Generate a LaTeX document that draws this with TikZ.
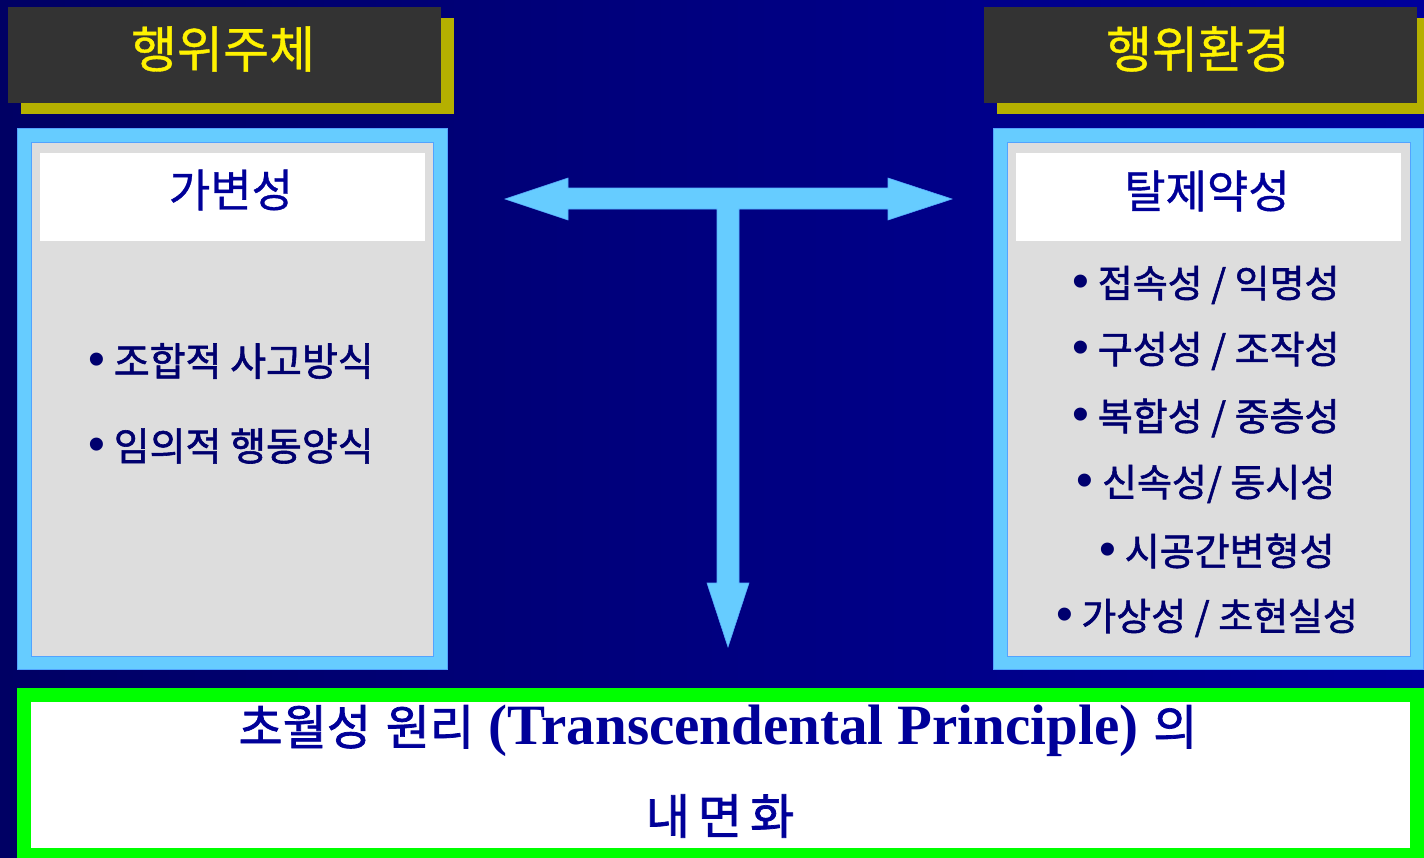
\documentclass[tikz,border=0pt]{standalone}
\usepackage{fontspec}
\setmainfont{Liberation Serif}
\newfontfamily\kr{Noto Sans CJK KR}
\newfontfamily\krm[FakeBold=1.5]{Noto Sans CJK KR}
\newfontfamily\krs[FakeBold=0.8]{Noto Sans CJK KR}
\newfontfamily\lsans{Liberation Sans}
\newcommand{\bul}{{\lsans\fontsize{48}{44}\selectfont •}}
\definecolor{bgL}{RGB}{0,0,100}
\definecolor{bgR}{RGB}{0,0,155}
\definecolor{hdrdark}{RGB}{51,51,51}
\definecolor{olivesh}{RGB}{181,176,0}
\definecolor{ltblue}{RGB}{102,204,255}
\definecolor{ltgray}{RGB}{221,221,221}
\definecolor{navy}{RGB}{0,0,153}
\definecolor{navyd}{RGB}{0,0,110}
\definecolor{grn}{RGB}{0,255,0}
\tikzset{
  hdrtext/.style={text=yellow, font=\krs\fontsize{50}{54}\selectfont, inner sep=0pt},
  ttltext/.style={text=navy, font=\krs\fontsize{45}{50}\selectfont, inner sep=0pt},
  itemtextL/.style={text=navyd, font=\krm\fontsize{39}{44}\selectfont, inner sep=0pt},
  itemtextR/.style={text=navyd, font=\krm\fontsize{38}{44}\selectfont, inner sep=0pt},
  bottext/.style={text=navy, font=\krm\fontsize{48}{52}\selectfont, inner sep=0pt},
  arrowshape/.style={fill=ltblue, draw=ltblue!85!blue, line width=0.6pt}
}
\begin{document}
\begin{tikzpicture}[x=1pt,y=-1pt]
\useasboundingbox (0,0) rectangle (1424,857);
\shade[left color=bgL, right color=bgR] (0,0) rectangle (1424,857);

% headers
\fill[olivesh] (21,18) rectangle (454,114);
\fill[hdrdark] (8,7) rectangle (441,103);
\node[hdrtext] (hL) at (223,49) {행위주체};
\fill[olivesh] (997,18) rectangle (1430,114);
\fill[hdrdark] (984,7) rectangle (1417,103);
\node[hdrtext] (hR) at (1198,49) {행위환경};

% left panel
\filldraw[fill=ltblue, draw=ltblue!80!blue, line width=0.6pt] (17,128) rectangle (447,669);
\filldraw[fill=ltgray, draw=ltblue!80!blue, line width=0.4pt] (31,142) rectangle (433,656);
\fill[white] (40,153) rectangle (425,241);
\node[ttltext] (tL) at (231,190) {가변성};
\node[itemtextL] (l1) at (231,361) {\bul\ 조합적 사고방식};
\node[itemtextL] (l2) at (231,446) {\bul\ 임의적 행동양식};

% right panel
\filldraw[fill=ltblue, draw=ltblue!80!blue, line width=0.6pt] (993,128) rectangle (1423,669);
\filldraw[fill=ltgray, draw=ltblue!80!blue, line width=0.4pt] (1007,142) rectangle (1410,656);
\fill[white] (1016,153) rectangle (1401,241);
\node[ttltext] (tR) at (1207,191) {탈제약성};
\node[itemtextR] (r1) at (1206,285) {\bul\ 접속성 / 익명성};
\node[itemtextR] (r2) at (1206,351) {\bul\ 구성성 / 조작성};
\node[itemtextR] (r3) at (1206,418) {\bul\ 복합성 / 중층성};
\node[itemtextR] (r4) at (1206,484) {\bul\ 신속성/ 동시성};
\node[itemtextR] (r5) at (1217,551) {\bul\ 시공간변형성};
\node[itemtextR] (r6) at (1207,618) {\bul\ 가상성 / 초현실성};

% T arrow
\filldraw[arrowshape] (505,199) -- (568,178) -- (568,188) -- (888,188) -- (888,178)
  -- (952,199) -- (888,220) -- (888,209) -- (739,209) -- (739,583) -- (749,583)
  -- (728,647) -- (707,583) -- (717,583) -- (717,209) -- (568,209) -- (568,220) -- cycle;

% bottom box
\fill[grn] (17,688) rectangle (1430,863);
\fill[white] (31,702) rectangle (1410,848);
\node[bottext] (b1) at (718,731) {초월성\hspace{4pt} 원리\hspace{4pt} {\rmfamily\bfseries\fontsize{57}{60}\selectfont (Transcendental Principle)}\hspace{4pt} 의};
\node[bottext] (b2) at (720,816) {내\hspace{8pt}면\hspace{8pt}화};
\end{tikzpicture}
\end{document}
